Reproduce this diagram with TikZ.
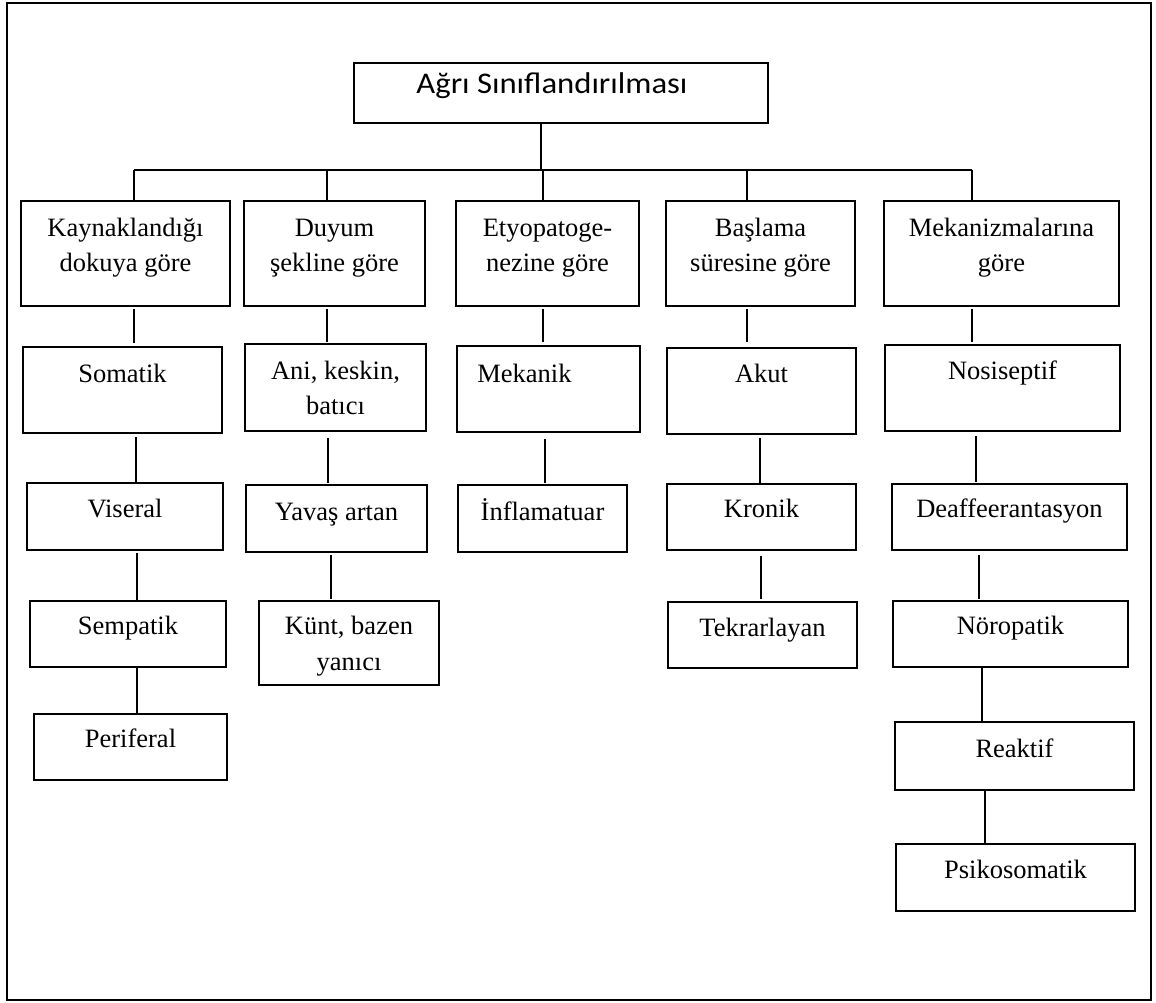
\documentclass[tikz,border=0pt]{standalone}
\usepackage{fontspec}
\usepackage{graphicx}
\setmainfont{Liberation Serif}
\newfontfamily\titlefont{Carlito}
\usetikzlibrary{fit,calc}
\tikzset{
  box/.style={draw=black, line width=1.8pt, inner sep=0pt, rectangle},
  frame/.style={draw=black, line width=2pt, inner sep=0pt, rectangle},
  txt/.style={anchor=base, inner sep=0pt, font=\fontsize{26.5}{32}\selectfont},
  conn/.style={draw=black, line width=1.3pt},
}
\begin{document}
\begin{tikzpicture}[x=1pt, y=-1pt]
\useasboundingbox (0,0) rectangle (1156,1003);
\node[frame, fit={(7,3.5) (1150.5,1000)}] (frm) {};

% title
\node[box, fit={(354,63) (768,123)}] (root) {};
\node[anchor=base, inner sep=0pt] (roott) at (552,94) {\titlefont\fontsize{30}{34}\selectfont\scalebox{1.09}[1]{Ağrı Sınıflandırılması}};

% level 1
\node[box, fit={(21,201) (230,306)}] (k1) {};
\node[box, fit={(244,201) (425,306)}] (k2) {};
\node[box, fit={(456,201) (639,306)}] (k3) {};
\node[box, fit={(666,201) (855,306)}] (k4) {};
\node[box, fit={(884,201) (1119,306)}] (k5) {};
\node[txt] (k1a) at ($(k1.north)+(0,36.5)$) {Kaynaklandığı};
\node[txt] (k1b) at ($(k1.north)+(0,71)$) {dokuya göre};
\node[txt] (k2a) at ($(k2.north)+(0,36.5)$) {Duyum};
\node[txt] (k2b) at ($(k2.north)+(0,71)$) {şekline göre};
\node[txt] (k3a) at ($(k3.north)+(0,36.5)$) {Etyopatoge-};
\node[txt] (k3b) at ($(k3.north)+(0,71)$) {nezine göre};
\node[txt] (k4a) at ($(k4.north)+(0,36.5)$) {Başlama};
\node[txt] (k4b) at ($(k4.north)+(0,71)$) {süresine göre};
\node[txt] (k5a) at ($(k5.north)+(0,36.5)$) {Mekanizmalarına};
\node[txt] (k5b) at ($(k5.north)+(0,71)$) {göre};

% column 1
\node[box, fit={(23,347) (222,433)}] (som) {};
\node[box, fit={(27,483) (223,550)}] (vis) {};
\node[box, fit={(30,601) (226,667)}] (sem) {};
\node[box, fit={(34,714) (227,780)}] (per) {};
\node[txt] (somt) at ($(som.north)+(0,36)$) {Somatik};
\node[txt] (vist) at ($(vis.north)+(0,35)$) {Viseral};
\node[txt] (semt) at ($(sem.north)+(0,34)$) {Sempatik};
\node[txt] (pert) at ($(per.north)+(0,34)$) {Periferal};

% column 2
\node[box, fit={(245,344) (426,431)}] (ani) {};
\node[box, fit={(246,485) (427,552)}] (yav) {};
\node[box, fit={(259,601) (439,685)}] (kun) {};
\node[txt] (ania) at ($(ani.north)+(0,36)$) {Ani, keskin,};
\node[txt] (anib) at ($(ani.north)+(0,71)$) {batıcı};
\node[txt] (yavt) at ($(yav.north)+(0,36)$) {Yavaş artan};
\node[txt] (kuna) at ($(kun.north)+(0,34)$) {Künt, bazen};
\node[txt] (kunb) at ($(kun.north)+(0,70)$) {yanıcı};

% column 3
\node[box, fit={(457,346) (640,432)}] (mek) {};
\node[box, fit={(458,485) (627,552)}] (inf) {};
\node[txt, anchor=base west] (mekt) at ($(mek.north west)+(21,37)$) {Mekanik};
\node[txt] (inft) at ($(inf.north)+(0,36)$) {İnflamatuar};

% column 4
\node[box, fit={(667,348) (856,434)}] (aku) {};
\node[box, fit={(667,484) (856,550)}] (kro) {};
\node[box, fit={(668,602) (857,668)}] (tek) {};
\node[txt] (akut) at ($(aku.north)+(0,35)$) {Akut};
\node[txt] (krot) at ($(kro.north)+(0,34)$) {Kronik};
\node[txt] (tekt) at ($(tek.north)+(0,35)$) {Tekrarlayan};

% column 5
\node[box, fit={(885,345) (1120,431)}] (nos) {};
\node[box, fit={(892,484) (1127,550)}] (dea) {};
\node[box, fit={(893,601) (1128,667)}] (nor) {};
\node[box, fit={(895,722) (1134,790)}] (rea) {};
\node[box, fit={(896,844) (1135,911)}] (psi) {};
\node[txt] (nost) at ($(nos.north)+(0,35)$) {Nosiseptif};
\node[txt] (deat) at ($(dea.north)+(0,34)$) {Deaffeerantasyon};
\node[txt] (nort) at ($(nor.north)+(0,34)$) {Nöropatik};
\node[txt] (reat) at ($(rea.north)+(0,36)$) {Reaktif};
\node[txt] (psit) at ($(psi.north)+(0,35)$) {Psikosomatik};

% bus
\coordinate (bus) at (541,170);
\draw[conn] (root.south -| bus) -- (bus);
\draw[conn] ([xshift=8.5pt]k1.north |- bus) -- ([xshift=-29.5pt]k5.north |- bus);
\draw[conn] ([xshift=8.5pt]k1.north |- bus) -- ([xshift=8.5pt]k1.north);
\draw[conn] ([xshift=-7.5pt]k2.north |- bus) -- ([xshift=-7.5pt]k2.north);
\draw[conn] ([xshift=-4.5pt]k3.north |- bus) -- ([xshift=-4.5pt]k3.north);
\draw[conn] ([xshift=-13.5pt]k4.north |- bus) -- ([xshift=-13.5pt]k4.north);
\draw[conn] ([xshift=-29.5pt]k5.north |- bus) -- ([xshift=-29.5pt]k5.north);

% level1 -> level2
\draw[conn, shorten <=2pt, shorten >=3pt] ([xshift=8.5pt]k1.south) -- ([xshift=8.5pt]k1.south |- som.north);
\draw[conn, shorten <=2pt, shorten >=1pt] ([xshift=-7.5pt]k2.south) -- ([xshift=-7.5pt]k2.south |- ani.north);
\draw[conn, shorten <=2pt, shorten >=3pt] ([xshift=-4.5pt]k3.south) -- ([xshift=-4.5pt]k3.south |- mek.north);
\draw[conn, shorten <=2pt, shorten >=5pt] ([xshift=-13.5pt]k4.south) -- ([xshift=-13.5pt]k4.south |- aku.north);
\draw[conn, shorten <=2pt, shorten >=2pt] ([xshift=-29.5pt]k5.south) -- ([xshift=-29.5pt]k5.south |- nos.north);

% column 1 chain
\draw[conn, shorten <=3pt] ([xshift=13.5pt]som.south) -- ([xshift=13.5pt]som.south |- vis.north);
\draw[conn, shorten <=2pt] ([xshift=12pt]vis.south) -- ([xshift=12pt]vis.south |- sem.north);
\draw[conn] ([xshift=9pt]sem.south) -- ([xshift=9pt]sem.south |- per.north);

% column 2 chain
\draw[conn, shorten <=6pt, shorten >=1pt] ([xshift=-7.5pt]ani.south) -- ([xshift=-7.5pt]ani.south |- yav.north);
\draw[conn, shorten <=2pt, shorten >=1pt] ([xshift=-5.5pt]yav.south) -- ([xshift=-5.5pt]yav.south |- kun.north);

% column 3 chain
\draw[conn, shorten <=6pt, shorten >=1pt] ([xshift=-3.5pt]mek.south) -- ([xshift=-3.5pt]mek.south |- inf.north);

% column 4 chain
\draw[conn, shorten <=3pt] ([xshift=-1.5pt]aku.south) -- ([xshift=-1.5pt]aku.south |- kro.north);
\draw[conn, shorten <=5pt, shorten >=2pt] ([xshift=-0.5pt]kro.south) -- ([xshift=-0.5pt]kro.south |- tek.north);

% column 5 chain
\draw[conn, shorten <=4pt, shorten >=1pt] ([xshift=-26.5pt]nos.south) -- ([xshift=-26.5pt]nos.south |- dea.north);
\draw[conn, shorten <=4pt, shorten >=1pt] ([xshift=-30.5pt]dea.south) -- ([xshift=-30.5pt]dea.south |- nor.north);
\draw[conn] ([xshift=-28.5pt]nor.south) -- ([xshift=-28.5pt]nor.south |- rea.north);
\draw[conn] ([xshift=-29.5pt]rea.south) -- ([xshift=-29.5pt]rea.south |- psi.north);
\end{tikzpicture}
\end{document}
